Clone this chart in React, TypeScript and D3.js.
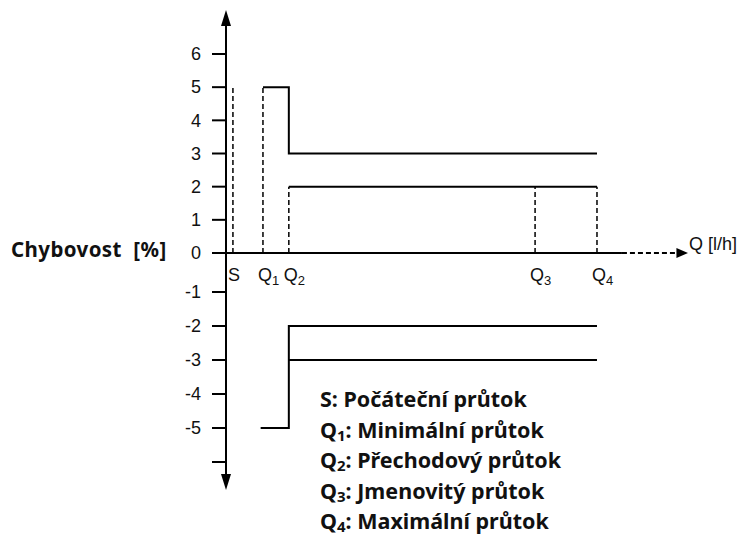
import React from 'react';
import * as d3 from 'd3';

// y ticks (error in %), bottom tick has no label
const yTicks = [-6, -5, -4, -3, -2, -1, 0, 1, 2, 3, 4, 5, 6];
const yLabels = ['', '-5', '-4', '-3', '-2', '-1', '0', '1', '2', '3', '4', '5', '6'];

// flow markers on the Q axis (relative positions)
const flowNames = ['S', 'Q', 'Q', 'Q', 'Q'];
const flowSubs = ['', '1', '2', '3', '4'];
const flowPos = [1.5, 8, 13.6, 66.9, 80.3];
const dashTop = [5, 5, 2, 2, 2];

// error limit steps [flow position, error]
const upperOuter: [number, number][] = [[8, 5], [13.6, 5], [13.6, 3], [80.3, 3]];
const upperInner: [number, number][] = [[13.6, 2], [80.3, 2]];
const lowerOuter: [number, number][] = [[7.5, -5], [13.6, -5], [13.6, -2], [80.3, -2]];
const lowerInner: [number, number][] = [[13.6, -3], [80.3, -3]];

const legendItems = [
  { name: 'S', sub: '', text: ': Počáteční průtok' },
  { name: 'Q', sub: '1', text: ': Minimální průtok' },
  { name: 'Q', sub: '2', text: ': Přechodový průtok' },
  { name: 'Q', sub: '3', text: ': Jmenovitý průtok' },
  { name: 'Q', sub: '4', text: ': Maximální průtok' },
];

const W = 741;
const H = 538;

export default function App() {
  const x = d3.scaleLinear().domain([0, 100]).range([226, 688]);
  // the drawing is slightly uneven around zero, so piecewise
  const y = d3.scaleLinear().domain([-6, -1, 0, 6]).range([462, 292, 253, 54]);

  const line = d3.line<[number, number]>().x(d => x(d[0])).y(d => y(d[1]));
  const axisX = x(0);
  const solidEnd = x(85.7);
  const font = '"Liberation Sans", Arial, sans-serif';
  const boldFont = '"Noto Sans", Roboto, sans-serif';

  return (
    <svg width={W} height={H} style={{ position: 'absolute', left: 0, top: 0, background: '#fff' }}>
      {/* y axis */}
      <line x1={axisX} x2={axisX} y1={22} y2={478} stroke="#000" strokeWidth={2} />
      <path d={`M${axisX},10 L${axisX - 5},26 L${axisX + 5},26 Z`} fill="#000" />
      <path d={`M${axisX},490 L${axisX - 5},474 L${axisX + 5},474 Z`} fill="#000" />
      {yTicks.map((t, i) => (
        <g key={t}>
          <line x1={axisX - 14} x2={axisX} y1={y(t)} y2={y(t)} stroke="#000" strokeWidth={2} />
          {yLabels[i] && (
            <text x={201} y={y(t)} dy="0.35em" textAnchor="end" fontFamily={font} fontSize={18} fill="#111">
              {yLabels[i]}
            </text>
          )}
        </g>
      ))}

      {/* x axis */}
      <line x1={axisX - 14} x2={solidEnd} y1={y(0)} y2={y(0)} stroke="#000" strokeWidth={2} />
      <line x1={solidEnd} x2={x(97.5)} y1={y(0)} y2={y(0)} stroke="#000" strokeWidth={2} strokeDasharray="5,3" />
      <path d={`M${x(100)},${y(0)} L${x(97.5)},${y(0) - 5} L${x(97.5)},${y(0) + 5} Z`} fill="#000" />
      <text x={689} y={250} fontFamily={font} fontSize={18} fill="#111">Q [l/h]</text>

      {/* dashed marker lines */}
      {flowPos.map((p, i) => (
        <line key={i} x1={x(p)} x2={x(p)} y1={y(0)} y2={y(dashTop[i])} stroke="#000" strokeWidth={1.5} strokeDasharray="5,3" />
      ))}
      {flowPos.map((p, i) => (
        <text key={'l' + i} x={x(p) - 5} y={281} fontFamily={font} fontSize={18} fill="#111">
          {flowNames[i]}
          {flowSubs[i] && <tspan fontSize={13} dy={4}>{flowSubs[i]}</tspan>}
        </text>
      ))}

      {/* error limits */}
      {[upperOuter, upperInner, lowerOuter, lowerInner].map((s, i) => (
        <path key={i} d={line(s) || ''} fill="none" stroke="#000" strokeWidth={2} />
      ))}

      {/* y title */}
      <text x={11} y={257} fontFamily={boldFont} fontWeight={700} fontSize={20.5} letterSpacing={0.4} fill="#111" xmlSpace="preserve">
        {'Chybovost  [%]'}
      </text>

      {/* legend */}
      {legendItems.map((d, i) => (
        <text key={i} x={320} y={407 + i * 30.5} fontFamily={boldFont} fontWeight={700} fontSize={21.5} fill="#111">
          {d.name}
          {d.sub && <tspan fontSize={15} dy={3}>{d.sub}</tspan>}
          <tspan dy={d.sub ? -3 : 0}>{d.text}</tspan>
        </text>
      ))}
    </svg>
  );
}
